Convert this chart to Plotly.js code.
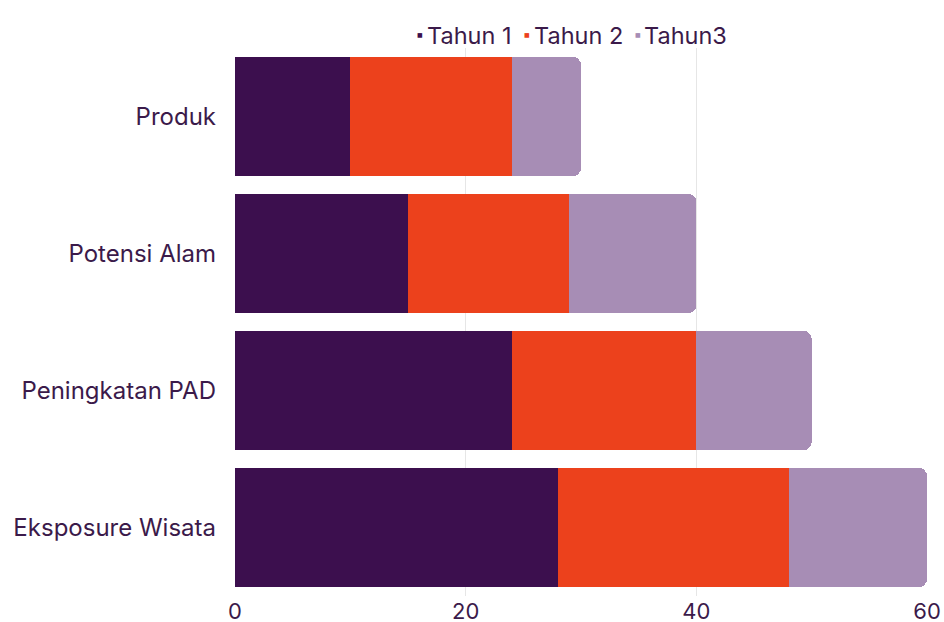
<!DOCTYPE html>
<html>
<head>
<meta charset="utf-8">
<script src="https://cdn.plot.ly/plotly-3.0.1.min.js"></script>
<style>html,body{margin:0;padding:0;background:#fff;}#chart{width:944px;height:622px;}</style>
</head>
<body>
<div id="chart"></div>
<script>
const categories = ["Produk", "Potensi Alam", "Peningkatan PAD", "Eksposure Wisata"];
const seriesNames = ["Tahun 1", "Tahun 2", "Tahun3"];
const tahun1 = [10, 15, 24, 28];
const tahun2 = [14, 14, 16, 20];
const tahun3 = [6, 11, 10, 12];
const tickVals = [0, 20, 40, 60];

const colors = ["#3c0f4e", "#ec411c", "#a78db5"];
const textColor = "#3b1a4a";
const values = [tahun1, tahun2, tahun3];

const traces = values.map((v, i) => ({
  type: "bar", orientation: "h", y: categories, x: v, name: seriesNames[i],
  marker: {color: colors[i], line: {width: 0}}, showlegend: false, hoverinfo: "x+y"
}));

// legend drawn as annotations (pixel layout positions converted to paper coords)
const M = {l: 235, r: 17, t: 48, b: 26};
const W = 944, H = 622;
const px = p => (p - M.l) / (W - M.l - M.r);
const py = p => (H - M.b - p) / (H - M.t - M.b);
const markerX = [420, 527, 638];
const textX = [426, 533, 643];
const annotations = [];
seriesNames.forEach((n, i) => {
  annotations.push({xref: "paper", yref: "paper", x: px(markerX[i]), y: py(34.5),
    xanchor: "center", yanchor: "middle", showarrow: false, borderpad: 0,
    text: "■", font: {family: "DejaVu Sans", size: 6, color: colors[i]}});
  annotations.push({xref: "paper", yref: "paper", x: px(textX[i]), y: py(35),
    xanchor: "left", yanchor: "middle", showarrow: false, borderpad: 0,
    text: n, font: {size: 23.5, color: textColor}});
});

const layout = {
  width: W, height: H,
  margin: {l: M.l, r: M.r, t: M.t, b: M.b, pad: 0, autoexpand: false},
  barmode: "stack", bargap: 0.13, barcornerradius: 8,
  paper_bgcolor: "#fff", plot_bgcolor: "#fff",
  font: {family: "Inter, 'Open Sans', sans-serif", color: textColor, size: 22},
  showlegend: false,
  annotations: annotations,
  xaxis: {range: [0, 60], tickvals: tickVals, showgrid: true, gridcolor: "#e6e6e6",
          gridwidth: 1, zeroline: false, showline: false, ticks: "", ticklen: 0,
          tickfont: {size: 22, color: textColor}, fixedrange: true},
  yaxis: {autorange: "reversed", showgrid: false, zeroline: false, showline: false,
          ticks: "", ticklabelstandoff: 18, tickfont: {size: 24, color: textColor}}
};

Plotly.newPlot("chart", traces, layout, {displayModeBar: false, staticPlot: true});
</script>
</body>
</html>
